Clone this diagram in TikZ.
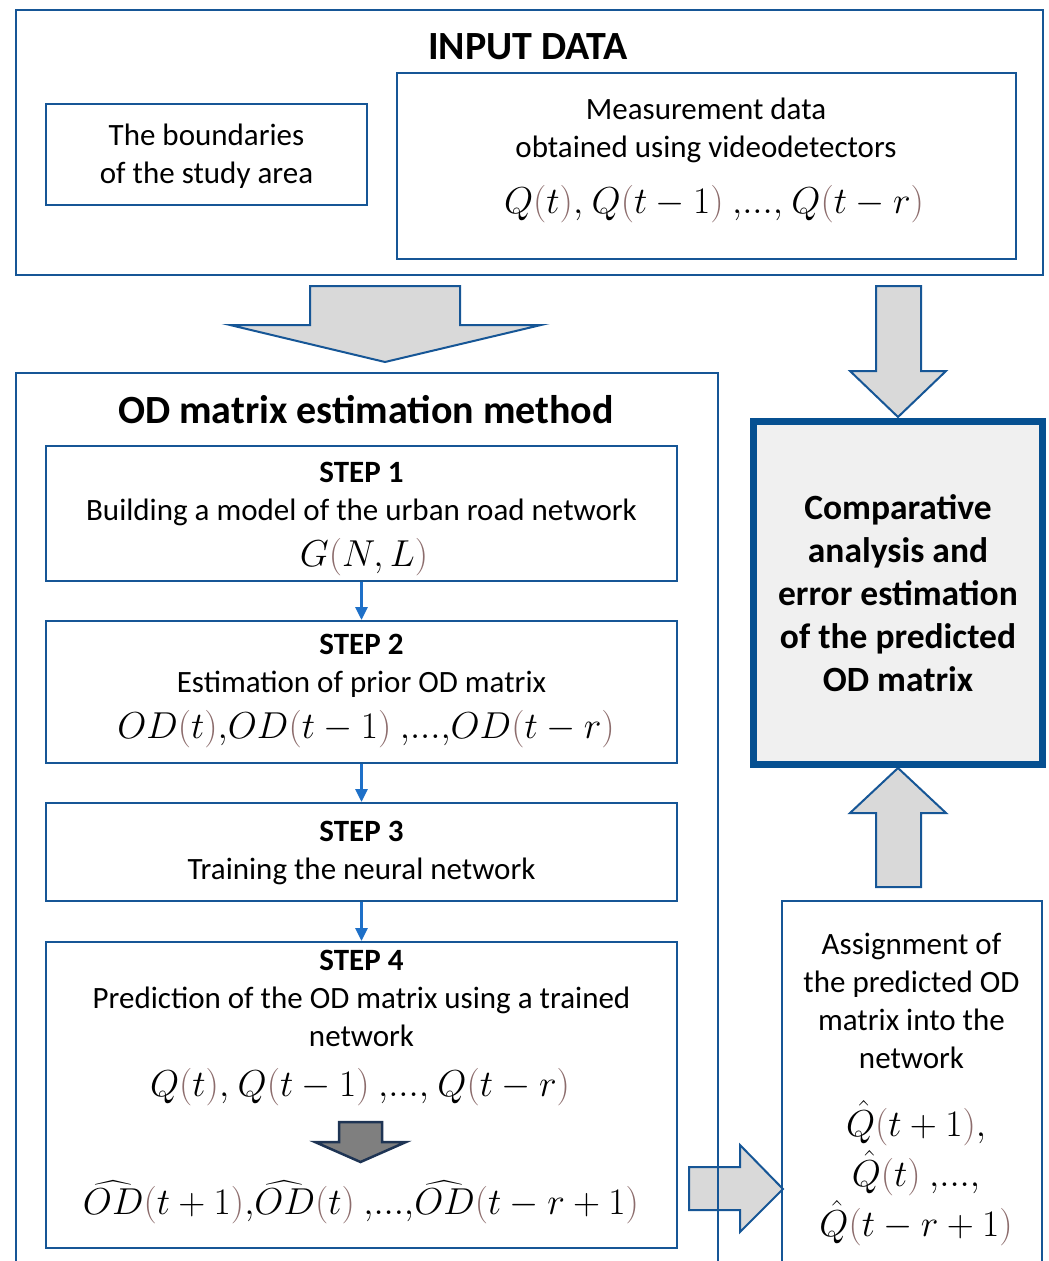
\RequirePackage{fix-cm}
\documentclass[tikz,border=0pt]{standalone}
\usepackage{amsmath}
\usepackage[no-math]{fontspec}
\setmainfont{Carlito}
\usetikzlibrary{arrows.meta}
\definecolor{boxblue}{RGB}{22,86,150}
\definecolor{framedark}{RGB}{6,80,145}
\definecolor{linkblue}{RGB}{30,112,200}
\definecolor{arrowgrey}{RGB}{217,217,217}
\definecolor{panelgrey}{RGB}{240,240,240}
\definecolor{darkgrey}{RGB}{127,127,127}
\definecolor{darkedge}{RGB}{30,52,84}
\definecolor{parbrown}{RGB}{140,108,108}
\newcommand\parL{\mathopen{\color{parbrown}(}}
\newcommand\parR{\mathclose{\color{parbrown})}}
\newcommand\etcdots{{,}{.}{.}{.}{,}}
\begin{document}
\begin{tikzpicture}[
    x=1pt, y=-1pt,
    txt/.style={font=\fontsize{31}{38}\selectfont, align=center, inner sep=0pt},
    heading/.style={font=\fontsize{40}{46}\selectfont\bfseries, inner sep=0pt},
    eq/.style={font=\fontsize{37.5}{50}\selectfont, align=center, inner sep=0pt},
    box/.style={draw=boxblue, line width=2pt, inner sep=0pt},
    fatarrow/.style={draw=boxblue, line width=2pt, fill=arrowgrey, line join=miter},
    link/.style={draw=linkblue, line width=3pt, -{Triangle[length=13pt,width=12pt]}}
  ]
    \useasboundingbox (0,0) rectangle (1049,1261);
    \clip (0,0) rectangle (1049,1261);
    \draw[fatarrow] (310,286) -- (460,286) -- (460,325) -- (541,325) -- (385,362) -- (230,325) -- (310,325) -- cycle;
    \draw[fatarrow] (876,286) -- (921,286) -- (921,371) -- (946,371) -- (898,417) -- (850,371) -- (876,371) -- cycle;
    \draw[fatarrow] (876,887) -- (921,887) -- (921,813) -- (946,813) -- (898,768) -- (850,813) -- (876,813) -- cycle;
    \draw[fatarrow] (689,1167) -- (740,1167) -- (740,1145) -- (783,1189) -- (740,1232) -- (740,1210) -- (689,1210) -- cycle;
    \node[box, minimum width=1027, minimum height=265] (input) at (529.5,142.5) {};
    \node[heading] (inputtitle) at (528,47) {INPUT DATA};
    \node[box, minimum width=321, minimum height=101] (bounds) at (206.5,154.5) {};
    \node[txt] (boundstxt) at (206.5,156) {The boundaries\\of the study area};
    \node[box, minimum width=619, minimum height=186] (meas) at (706.5,166) {};
    \node[txt] (meastxt) at (706,130) {Measurement data\\obtained using videodetectors};
    \node[eq] (measeq) at (714,204) {$Q\parL t\parR{,}\ Q\parL t-1\parR\ \etcdots\ Q\parL t-r\parR$};
    \node[box, minimum width=702, minimum height=927] (method) at (367,836.5) {};
    \node[heading] (methodtitle) at (366,410) {OD matrix estimation method};
    \node[box, minimum width=631, minimum height=135] (step1) at (361.5,513.5) {};
    \node[txt] (step1txt) at (361.5,493.5) {\textbf{STEP 1}\\Building a model of the urban road network};
    \node[eq] (step1eq) at (364,557) {$G\parL N,L\parR$};
    \node[box, minimum width=631, minimum height=142] (step2) at (361.5,692) {};
    \node[txt] (step2txt) at (361.5,665.5) {\textbf{STEP 2}\\Estimation of prior OD matrix};
    \node[eq] (step2eq) at (366,729) {$OD\parL t\parR{,}OD\parL t-1\parR\ \etcdots OD\parL t-r\parR$};
    \node[box, minimum width=631, minimum height=98] (step3) at (361.5,852) {};
    \node[txt] (step3txt) at (361.5,853) {\textbf{STEP 3}\\Training the neural network};
    \node[box, minimum width=631, minimum height=306] (step4) at (361.5,1095) {};
    \node[txt] (step4txt) at (361.5,998.5) {\textbf{STEP 4}\\Prediction of the OD matrix using a trained\\network};
    \node[eq] (step4eq) at (360,1087) {$Q\parL t\parR{,}\ Q\parL t-1\parR\ \etcdots\ Q\parL t-r\parR$};
    \draw[line width=2.5pt, draw=darkedge, fill=darkgrey, line join=miter] (339,1122) -- (382,1122) -- (382,1142) -- (406,1142) -- (360.5,1162) -- (315,1142) -- (339,1142) -- cycle;
    \node[eq] (step4od) at (361,1202) {$\widehat{OD}\parL t+1\parR{,}\widehat{OD}\parL t\parR\ \etcdots\widehat{OD}\parL t-r+1\parR$};
    \draw[link] (step1) -- (step2);
    \draw[link] (step2) -- (step3);
    \draw[link] (step3) -- (step4);
    \node[draw=framedark, line width=7pt, fill=panelgrey, minimum width=289, minimum height=343, inner sep=0pt,
      font=\fontsize{35.5}{43}\selectfont\bfseries, align=center] (compare) at (898,593)
      {Comparative\\analysis and\\error estimation\\of the predicted\\OD matrix};
    \node[box, minimum width=260, minimum height=399] (assign) at (912,1100.5) {};
    \node[txt] (assigntxt) at (911.5,1001) {Assignment of\\the predicted OD\\matrix into the\\network};
    \node[eq] (assigneq) at (916,1173) {$\hat{Q}\parL t+1\parR{,}$\\$\hat{Q}\parL t\parR\ \etcdots$\\$\hat{Q}\parL t-r+1\parR$};
\end{tikzpicture}
\end{document}
